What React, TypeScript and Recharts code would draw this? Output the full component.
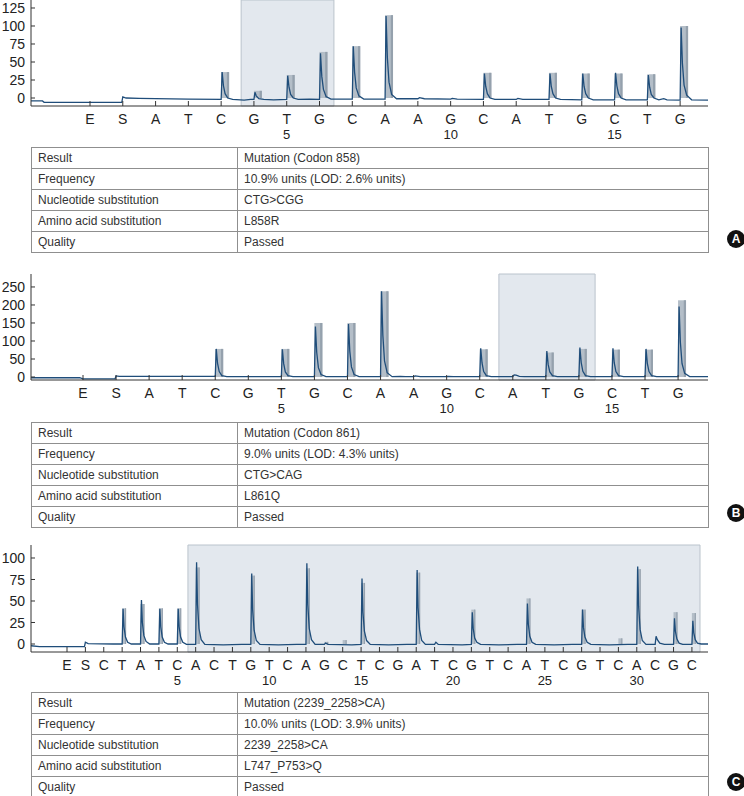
import { ComposedChart, Bar, Line, XAxis, YAxis, ReferenceArea } from 'recharts';

// dispensation order (E and S first), one letter per tick
const lettersA = ['E', 'S', 'A', 'T', 'C', 'G', 'T', 'G', 'C', 'A', 'A', 'G', 'C', 'A', 'T', 'G', 'C', 'T', 'G'];
const lettersB = ['E', 'S', 'A', 'T', 'C', 'G', 'T', 'G', 'C', 'A', 'A', 'G', 'C', 'A', 'T', 'G', 'C', 'T', 'G'];
const lettersC = [
  'E', 'S', 'C', 'T', 'A', 'T', 'C', 'A', 'C', 'T', 'G', 'T', 'C', 'A', 'G', 'C', 'T', 'C',
  'G', 'A', 'T', 'C', 'G', 'T', 'C', 'A', 'T', 'C', 'G', 'T', 'C', 'A', 'C', 'G', 'C',
];

// sequence position numbers printed under some letters: [tick index, label]
const seqNumbersA: [number, string][] = [[6, '5'], [11, '10'], [16, '15']];
const seqNumbersB: [number, string][] = [[6, '5'], [11, '10'], [16, '15']];
const seqNumbersC: [number, string][] = [[6, '5'], [11, '10'], [16, '15'], [21, '20'], [26, '25'], [31, '30']];

const yTicksA = [0, 25, 50, 75, 100, 125];
const yTicksB = [0, 50, 100, 150, 200, 250];
const yTicksC = [0, 25, 50, 75, 100];

// expected (histogram) bars: [tick index, height]
const barsA: [number, number][] = [
  [4, 36], [5, 10], [6, 32], [7, 64], [8, 72], [9, 115], [12, 35], [14, 35], [15, 34], [16, 34], [17, 33], [18, 100],
];
const barsB: [number, number][] = [
  [4, 78], [6, 78], [7, 150], [8, 150], [9, 238], [12, 77], [14, 68], [15, 78], [16, 76], [17, 76], [18, 213],
];
const barsC: [number, number][] = [
  [3, 41.5], [4, 46.5], [5, 41.5], [6, 41.5], [7, 89], [10, 79.5], [13, 88], [14, 2.5], [15, 4.6], [16, 71],
  [19, 83], [22, 40], [25, 53], [28, 40], [30, 6.6], [31, 87], [33, 37], [34, 36],
];

// measured pyrogram trace: [x, signal]
const traceA: [number, number][] = [
  [-1.8, -4], [-1.45, -4], [-1.4, -6], [0.97, -6], [1.0, 1.5], [1.1, 0], [1.5, -0.5], [3.0, -1.5],
  [4, -2], [4.03, 36], [4.07, 17], [4.12, 6], [4.2, 0], [4.35, -2], [4.7, -3], [4.9, -2],
  [5, -2], [5.03, 8], [5.07, 3], [5.15, -1], [5.3, -2], [5.6, -2.5],
  [6, -2], [6.03, 31], [6.07, 15], [6.12, 5], [6.2, 0], [6.35, -2], [6.7, -1.5],
  [7, -2], [7.03, 62], [7.07, 30], [7.12, 12], [7.2, 2], [7.35, -1.5],
  [8, -1.5], [8.03, 72], [8.07, 36], [8.12, 14], [8.2, 3], [8.35, -1.5],
  [9, -1.5], [9.03, 114], [9.07, 56], [9.12, 22], [9.2, 5], [9.35, -1],
  [10, -1], [10.05, 0.5], [10.2, -1], [11, -1.5], [11.05, -0.5], [11.2, -1.5],
  [12, -2], [12.03, 34], [12.07, 16], [12.12, 6], [12.2, 0], [12.35, -2],
  [13, -2], [13.05, -0.5], [13.2, -2],
  [14, -2], [14.03, 34], [14.07, 16], [14.12, 6], [14.2, 0], [14.35, -2],
  [15, -2.5], [15.03, 34], [15.07, 16], [15.12, 6], [15.2, 0], [15.35, -2.5],
  [16, -2.5], [16.03, 35], [16.07, 17], [16.12, 6], [16.2, 0], [16.35, -2.5],
  [17, -2.5], [17.03, 32], [17.07, 15], [17.12, 5], [17.2, 0], [17.35, -2.5], [17.5, -1], [17.6, -2.5],
  [18, -3], [18.03, 98], [18.07, 48], [18.12, 18], [18.2, 4], [18.35, -2.5], [18.85, -3],
];

const traceB: [number, number][] = [
  [-1.57, -2], [-0.1, -2], [0, -5], [0.97, -5], [1.0, 3], [1.1, 1.5], [3, 1.5],
  [4, 1.5], [4.03, 78], [4.07, 38], [4.12, 15], [4.2, 4], [4.35, 1],
  [6, 1], [6.03, 77], [6.07, 37], [6.12, 14], [6.2, 4], [6.35, 1],
  [7, 1], [7.03, 140], [7.07, 68], [7.12, 26], [7.2, 7], [7.35, 1],
  [8, 1], [8.03, 147], [8.07, 72], [8.12, 28], [8.2, 7], [8.35, 1],
  [9, 1], [9.03, 238], [9.07, 116], [9.12, 45], [9.2, 12], [9.35, 1],
  [9.6, 2], [9.75, 1], [10, 1], [10.05, 3], [10.2, 1], [11, 1], [11.05, 2], [11.2, 1],
  [12, 1], [12.03, 80], [12.07, 39], [12.12, 15], [12.2, 4], [12.35, 1],
  [13, 1], [13.04, 6], [13.1, 5], [13.2, 2], [13.35, 1],
  [14, 1], [14.03, 72], [14.07, 35], [14.12, 14], [14.2, 4], [14.35, 1],
  [15, 1], [15.03, 82], [15.07, 40], [15.12, 16], [15.2, 4], [15.35, 1],
  [16, 1], [16.03, 80], [16.07, 39], [16.12, 15], [16.2, 4], [16.35, 1],
  [17, 1], [17.03, 78], [17.07, 38], [17.12, 15], [17.2, 4], [17.35, 1],
  [18, 1], [18.03, 196], [18.07, 96], [18.12, 37], [18.2, 10], [18.35, 1], [18.905, 1],
];

const traceC: [number, number][] = [
  [-1.96, -2], [-1.5, -3], [0.95, -3], [1.0, 2], [1.15, 0.5], [2.5, 0],
  [3, 0], [3.05, 41], [3.1, 20], [3.18, 8], [3.3, 2], [3.5, 0],
  [4, 0], [4.05, 51], [4.1, 25], [4.18, 10], [4.3, 3], [4.5, 0],
  [5, 0], [5.05, 41], [5.1, 20], [5.18, 8], [5.3, 2], [5.5, 0],
  [6, 0], [6.05, 41], [6.1, 20], [6.18, 8], [6.3, 2], [6.5, -0.5],
  [7, -0.5], [7.05, 95], [7.1, 46], [7.18, 18], [7.3, 5], [7.5, -0.5],
  [8.5, -1], [9.5, -0.5],
  [10, -0.5], [10.05, 82], [10.1, 40], [10.18, 16], [10.3, 4], [10.5, -0.5],
  [11.5, -1], [12.5, -0.5],
  [13, -0.5], [13.05, 94], [13.1, 46], [13.18, 18], [13.3, 5], [13.5, -0.5],
  [14, -0.5], [14.07, 1], [14.2, -0.5], [15.5, -1],
  [16, -0.5], [16.05, 76], [16.1, 37], [16.18, 15], [16.3, 4], [16.5, -0.5],
  [17.5, -1], [18.5, -0.5],
  [19, -0.5], [19.05, 86], [19.1, 42], [19.18, 17], [19.3, 4], [19.5, -0.5],
  [20, -0.5], [20.07, 2], [20.2, -0.5], [21.5, -1],
  [22, -0.5], [22.05, 37], [22.1, 18], [22.18, 7], [22.3, 2], [22.5, -0.5],
  [23.5, -1], [24.5, -0.5],
  [25, -0.5], [25.05, 47], [25.1, 23], [25.18, 9], [25.3, 2], [25.5, -0.5],
  [26.5, -1], [27.5, -0.5],
  [28, -0.5], [28.05, 40], [28.1, 19], [28.18, 8], [28.3, 2], [28.5, -0.5],
  [29.5, -1], [30.5, -0.5],
  [31, -0.5], [31.05, 90], [31.1, 44], [31.18, 17], [31.3, 4], [31.5, -0.5],
  [32, -0.5], [32.05, 9], [32.12, 5], [32.25, 1], [32.5, -0.5],
  [33, -0.5], [33.05, 30], [33.1, 15], [33.18, 6], [33.3, 1], [33.5, -0.5],
  [34, -0.5], [34.05, 27], [34.1, 13], [34.18, 5], [34.3, 1], [34.5, 0], [34.875, 0],
];

const tableA: [string, string][] = [
  ['Result', 'Mutation (Codon 858)'],
  ['Frequency', '10.9% units (LOD: 2.6% units)'],
  ['Nucleotide substitution', 'CTG>CGG'],
  ['Amino acid substitution', 'L858R'],
  ['Quality', 'Passed'],
];
const tableB: [string, string][] = [
  ['Result', 'Mutation (Codon 861)'],
  ['Frequency', '9.0% units (LOD: 4.3% units)'],
  ['Nucleotide substitution', 'CTG>CAG'],
  ['Amino acid substitution', 'L861Q'],
  ['Quality', 'Passed'],
];
const tableC: [string, string][] = [
  ['Result', 'Mutation (2239_2258>CA)'],
  ['Frequency', '10.0% units (LOD: 3.9% units)'],
  ['Nucleotide substitution', '2239_2258>CA'],
  ['Amino acid substitution', 'L747_P753>Q'],
  ['Quality', 'Passed'],
];

const AXIS = '#333';
const TRACE = '#1f4d7a';
const FONT = "'Liberation Sans', Arial, sans-serif";

function LetterTick(props: any) {
  const { x, y, payload, letters, numbers } = props;
  const i = Math.round(payload.value);
  const num = numbers.find((n: [number, string]) => n[0] === i);
  return (
    <g>
      <line x1={x} x2={x} y1={y} y2={y - 5} stroke={AXIS} strokeWidth={1} />
      <text x={x} y={y + 18} textAnchor="middle" fontSize={14} fill="#222" fontFamily={FONT}>
        {letters[i]}
      </text>
      {num && (
        <text x={x} y={y + 33} textAnchor="middle" fontSize={13} fill="#222" fontFamily={FONT}>
          {num[1]}
        </text>
      )}
    </g>
  );
}

function ValueTick(props: any) {
  const { x, y, payload } = props;
  return (
    <g>
      <line x1={x} x2={x + 4} y1={y} y2={y} stroke={AXIS} strokeWidth={1} />
      <text x={x - 6} y={y} dy="0.36em" textAnchor="end" fontSize={14} fill="#222" fontFamily={FONT}>
        {payload.value}
      </text>
    </g>
  );
}

// histogram bar: left edge sits on the dispensation tick
function HistBar(props: any) {
  const { x, y, width, height, barWidth } = props;
  if (height == null || isNaN(height)) return null;
  const cx = x + width / 2;
  const top = height < 0 ? y + height : y;
  const h = Math.abs(height);
  return (
    <g>
      <rect x={cx} y={top} width={barWidth} height={h} fill="#b4bec8" />
      <rect x={cx + barWidth * 0.72} y={top} width={barWidth * 0.28} height={h} fill="#95a1ad" />
    </g>
  );
}

interface PyrogramProps {
  top: number;
  plotHeight: number;
  letters: string[];
  numbers: [number, string][];
  bars: [number, number][];
  trace: [number, number][];
  xDomain: [number, number];
  yDomain: [number, number];
  yTicks: number[];
  shade: [number, number];
  barWidth: number;
}

function Pyrogram({ top, plotHeight, letters, numbers, bars, trace, xDomain, yDomain, yTicks, shade, barWidth }: PyrogramProps) {
  const barData = bars.map(([x, h]) => ({ x, h }));
  const lineData = trace.map(([x, y]) => ({ x, y }));
  const ticks = letters.map((_, i) => i);
  return (
    <div style={{ position: 'absolute', left: 0, top }}>
      <ComposedChart width={744} height={plotHeight + 50} data={barData} margin={{ top: 10, right: 36, bottom: 0, left: 0 }}>
        <ReferenceArea x1={shade[0]} x2={shade[1]} fill="#e3e8ee" fillOpacity={1} stroke="#bac3cc" strokeWidth={1} />
        <XAxis
          dataKey="x"
          type="number"
          domain={xDomain}
          allowDataOverflow
          ticks={ticks}
          interval={0}
          height={40}
          tickSize={0}
          tickMargin={0}
          axisLine={{ stroke: AXIS, strokeWidth: 1 }}
          tickLine={false}
          tick={(p: any) => <LetterTick {...p} letters={letters} numbers={numbers} />}
        />
        <YAxis
          type="number"
          domain={yDomain}
          allowDataOverflow
          ticks={yTicks}
          interval={0}
          width={31}
          tickSize={0}
          tickMargin={0}
          axisLine={{ stroke: AXIS, strokeWidth: 1 }}
          tickLine={false}
          tick={(p: any) => <ValueTick {...p} />}
        />
        <Bar
          dataKey="h"
          barSize={2}
          isAnimationActive={false}
          shape={(p: any) => <HistBar {...p} barWidth={barWidth} />}
        />
        <Line
          data={lineData}
          dataKey="y"
          type="linear"
          stroke={TRACE}
          strokeWidth={1.3}
          dot={false}
          activeDot={false}
          isAnimationActive={false}
        />
      </ComposedChart>
    </div>
  );
}

function ResultTable({ top, rows }: { top: number; rows: [string, string][] }) {
  const cell = {
    height: 21,
    boxSizing: 'border-box' as const,
    borderRight: '1px solid #8f8f8f',
    borderBottom: '1px solid #8f8f8f',
    paddingLeft: 6,
    lineHeight: '20px',
    fontSize: 12,
    color: '#333',
    whiteSpace: 'nowrap' as const,
    overflow: 'hidden',
  };
  return (
    <div
      style={{
        position: 'absolute',
        left: 31,
        top,
        width: 677,
        display: 'grid',
        gridTemplateColumns: '206px 471px',
        borderTop: '1px solid #8f8f8f',
        borderLeft: '1px solid #8f8f8f',
        fontFamily: FONT,
      }}
    >
      {rows.map(([k, v]) => [
        <div key={k + '-k'} style={cell}>{k}</div>,
        <div key={k + '-v'} style={cell}>{v}</div>,
      ])}
    </div>
  );
}

function PanelLabel({ top, label }: { top: number; label: string }) {
  return (
    <div
      style={{
        position: 'absolute',
        left: 727,
        top,
        width: 18,
        height: 18,
        borderRadius: '50%',
        background: '#111',
        color: '#fff',
        fontFamily: FONT,
        fontWeight: 'bold',
        fontSize: 12,
        lineHeight: '18px',
        textAlign: 'center',
      }}
    >
      {label}
    </div>
  );
}

export default function App() {
  return (
    <div style={{ position: 'absolute', left: 0, top: 0, width: 744, height: 796, overflow: 'hidden', background: '#fff' }}>
      <Pyrogram
        top={-10}
        plotHeight={106}
        letters={lettersA}
        numbers={seqNumbersA}
        bars={barsA}
        trace={traceA}
        xDomain={[-1.8, 18.85]}
        yDomain={[-11.1, 136.1]}
        yTicks={yTicksA}
        shade={[4.61, 7.44]}
        barWidth={8}
      />
      <ResultTable top={147} rows={tableA} />
      <PanelLabel top={230} label="A" />

      <Pyrogram
        top={264}
        plotHeight={106}
        letters={lettersB}
        numbers={seqNumbersB}
        bars={barsB}
        trace={traceB}
        xDomain={[-1.573, 18.905]}
        yDomain={[-8.3, 286]}
        yTicks={yTicksB}
        shade={[12.58, 15.49]}
        barWidth={8}
      />
      <ResultTable top={422} rows={tableB} />
      <PanelLabel top={504} label="B" />

      <Pyrogram
        top={535}
        plotHeight={107}
        letters={lettersC}
        numbers={seqNumbersC}
        bars={barsC}
        trace={traceC}
        xDomain={[-1.959, 34.875]}
        yDomain={[-9.3, 115.1]}
        yTicks={yTicksC}
        shade={[6.58, 34.44]}
        barWidth={4}
      />
      <ResultTable top={692} rows={tableC} />
      <PanelLabel top={773} label="C" />
    </div>
  );
}
